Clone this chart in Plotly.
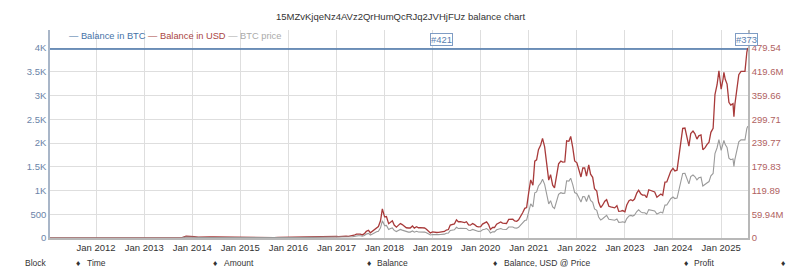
import plotly.graph_objects as go

# ---------------- data ----------------
TITLE = "15MZvKjqeNz4AVz2QrHumQcRJq2JVHjFUz balance chart"

balance_dates = ["2011-01-16", "2025-07-22"]
balance_btc = [3980, 3980]

# BTC price (USD), monthly 2011-2016
price_dates_early = [f"{y}-{m:02d}-15" for y in range(2011, 2017) for m in range(1, 13)]
price_early = [
    0.3, 0.9, 0.8, 1.5, 7, 17, 13, 9, 5, 3, 3, 4.5,
    5.5, 5, 5, 5, 5.1, 6.5, 9, 10.5, 12, 11, 12.5, 13.5,
    20, 33, 90, 130, 125, 100, 95, 130, 130, 200, 1100, 750,
    850, 570, 460, 440, 620, 640, 590, 480, 390, 340, 380, 320,
    220, 255, 245, 235, 230, 260, 285, 230, 235, 310, 380, 430,
    370, 435, 415, 450, 530, 670, 625, 575, 610, 700, 745, 960,
]

# BTC price (USD), semi-monthly 2017 - 2024
price_dates_mid = [f"{y}-{m:02d}-{d:02d}" for y in range(2017, 2025) for m in range(1, 13) for d in (1, 15)]
price_mid = [
    # 2017
    1000, 820, 990, 1010, 1220, 1250, 1080, 1180, 1420, 1750, 2400, 2450,
    2480, 1950, 2730, 4200, 4900, 3250, 4400, 5700, 6750, 7300, 10900, 18500,
    # 2018
    13400, 13600, 9100, 10200, 10900, 8200, 6900, 8000, 9200, 8500, 7500, 6500,
    6350, 6350, 7600, 6300, 7200, 6500, 6600, 6650, 6350, 5600, 4200, 3250,
    # 2019
    3850, 3600, 3480, 3620, 3820, 3920, 4140, 5050, 5350, 8200, 8550, 8900,
    11500, 10300, 10400, 10300, 9750, 10300, 8300, 8150, 9200, 8500, 7400, 7100,
    # 2020
    7200, 8800, 9400, 10200, 8550, 5400, 6650, 6650, 8800, 9300, 10200, 9450,
    9230, 9200, 11800, 11900, 11900, 10800, 10600, 11500, 13800, 16000, 18800, 19300,
    # 2021
    29400, 36800, 33500, 48700, 49600, 56000, 59000, 63200, 57800, 46800, 36700, 40200,
    33500, 31800, 39900, 47000, 48800, 48100, 48200, 61600, 61300, 64400, 57200, 48900,
    # 2022
    47700, 43100, 38700, 44500, 44400, 39300, 46300, 40500, 38500, 31300, 29800, 22600,
    19300, 20800, 23300, 24300, 20100, 19700, 19300, 19100, 20500, 16900, 17000, 17400,
    # 2023
    16600, 20900, 23700, 24300, 23600, 24700, 28500, 30300, 28100, 27200, 27200, 25600,
    30600, 30300, 29700, 29200, 25900, 26600, 27900, 27000, 35400, 35600, 38700, 42300,
    # 2024
    44200, 42500, 43000, 51900, 62400, 69500, 69700, 63400, 58300, 66200, 67800, 66200,
    62700, 64800, 65400, 56000, 57300, 59200, 60800, 67000, 69500, 91000, 97200, 106000,
]

# BTC price (USD), 2025 weekly-ish
price_dates_2025 = ["2025-01-01", "2025-01-15", "2025-01-22", "2025-02-01", "2025-02-15",
                    "2025-03-01", "2025-03-15", "2025-04-01", "2025-04-08", "2025-04-15",
                    "2025-05-01", "2025-05-15", "2025-06-01", "2025-06-15", "2025-07-01",
                    "2025-07-15", "2025-07-22"]
price_2025 = [94400, 100500, 105000, 100600, 97600,
              86000, 84300, 85200, 77000, 84500,
              96500, 103600, 105700, 105500, 105700,
              117800, 120480]

price_dates = price_dates_early + price_dates_mid + price_dates_2025
price_usd = price_early + price_mid + price_2025
BALANCE = balance_btc[-1]
balance_usd = [BALANCE * p for p in price_usd]  # Balance in USD = balance x price

left_tickvals = [0, 500, 1000, 1500, 2000, 2500, 3000, 3500, 4000]
left_ticktext = ["0", "500", "1K", "1.5K", "2K", "2.5K", "3K", "3.5K", "4K"]
right_step = 59.9425e6
right_tickvals = [i * right_step for i in range(9)]
right_ticktext = ["0", "59.94M", "119.89", "179.83", "239.77", "299.71", "359.66", "419.6M", "479.54"]

annot_labels = ["#421", "#373"]
annot_dates = ["2019-03-10", "2025-07-10"]

header_labels = ["Block", "\u2666", "Time", "\u2666", "Amount", "\u2666", "Balance", "\u2666",
                 "Balance, USD @ Price", "\u2666", "Profit", "\u2666"]
header_px = [23, 74, 85, 211, 222, 365, 375, 491, 502, 682, 692, 779]

# ---------------- figure ----------------
BLUE = "#4572A7"
RED = "#AA4643"
GRAY = "#9a9a9a"
L, R, T, B = 50, 52, 30, 29
W, H = 800, 267
PW = W - L - R
PH = H - T - B

fig = go.Figure()
fig.add_trace(go.Scatter(x=price_dates, y=price_usd, mode="lines", yaxis="y3",
                         line=dict(color=GRAY, width=1.1), name="BTC price"))
fig.add_trace(go.Scatter(x=price_dates, y=balance_usd, mode="lines", yaxis="y2",
                         line=dict(color="#a83a3a", width=1.3), name="Balance in USD"))
fig.add_trace(go.Scatter(x=balance_dates, y=balance_btc, mode="lines", yaxis="y",
                         line=dict(color=BLUE, width=1.5), name="Balance in BTC"))

ymax_left = 4000 * PH / 190
ymax_right = 479.54e6 * PH / 190

fig.update_layout(
    width=W, height=H,
    margin=dict(l=L, r=R, t=T, b=B),
    paper_bgcolor="white", plot_bgcolor="white",
    showlegend=False,
    font=dict(family="Liberation Sans, Arial, sans-serif", size=10, color="#333"),
    xaxis=dict(
        type="date", range=["2011-01-16", "2025-07-24"],
        tick0="2012-01-01", dtick="M12", tickformat="%b %Y",
        showgrid=True, gridcolor="#dedede", gridwidth=1,
        showline=True, linecolor="#b8b8b8", linewidth=1.5,
        ticks="", tickfont=dict(size=9.5, color="#333"),
        zeroline=False,
    ),
    yaxis=dict(
        range=[0, ymax_left], tickvals=left_tickvals, ticktext=left_ticktext,
        showgrid=True, gridcolor="#dedede", gridwidth=1,
        showline=True, linecolor="#a9b6c8", linewidth=1.5,
        tickfont=dict(size=9.5, color="#6b84a8"), ticks="", zeroline=False,
    ),
    yaxis2=dict(
        range=[0, ymax_right], tickvals=right_tickvals, ticktext=right_ticktext,
        overlaying="y", side="right", showgrid=False,
        showline=True, linecolor="#b8b8b8", linewidth=1.5,
        tickfont=dict(size=9.5, color="#b0625f"), ticks="", zeroline=False,
    ),
    yaxis3=dict(range=[0, 224000], overlaying="y", visible=False),
)

annotations = [
    dict(text=TITLE, xref="paper", yref="paper", x=(400 - L) / PW, y=(H - 16 - B) / PH,
         xanchor="center", yanchor="middle", showarrow=False,
         font=dict(size=9.5, color="#333")),
    dict(text=(f"<span style='color:{BLUE}'>\u2014 Balance in BTC</span> "
               f"<span style='color:{RED}'>\u2014 Balance in USD</span> "
               f"<span style='color:#aaaaaa'>\u2014 BTC price</span>"),
         xref="paper", yref="paper", x=(67 - L) / PW, y=(H - B - 36) / PH,
         xanchor="left", yanchor="middle", showarrow=False,
         font=dict(size=9.3)),
]
for lab, d in zip(annot_labels, annot_dates):
    annotations.append(dict(text=lab, x=d, y=BALANCE, xref="x", yref="y",
                            showarrow=False, yshift=9, xanchor="center", yanchor="middle",
                            font=dict(size=9.5, color="#5a7fb0"),
                            bordercolor="#7f9cc4", borderwidth=1, borderpad=0,
                            bgcolor="rgba(255,255,255,0.85)"))
for lab, px in zip(header_labels, header_px):
    annotations.append(dict(text=lab, xref="paper", yref="paper",
                            x=(px - L) / PW, y=(H - B - 263) / PH,
                            xanchor="left", yanchor="middle", showarrow=False,
                            font=dict(size=8.5, color="#333")))
fig.update_layout(annotations=annotations)

fig.write_html("out.html")
